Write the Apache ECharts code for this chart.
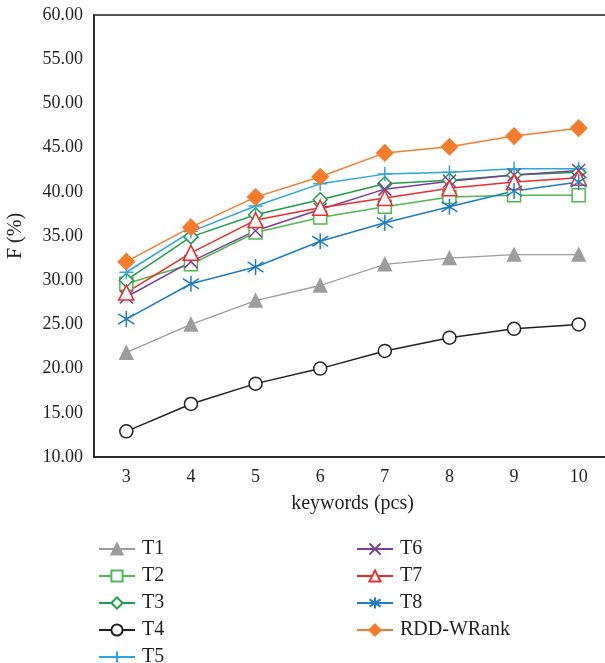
<!DOCTYPE html>
<html>
<head>
<meta charset="utf-8">
<script src="https://cdn.jsdelivr.net/npm/echarts@6/dist/echarts.min.js"></script>
<style>
html,body{margin:0;padding:0;background:#fff;overflow:hidden;}
#chart{width:605px;height:663px;}
</style>
</head>
<body>
<div id="chart"></div>
<script>
var categories = ['3','4','5','6','7','8','9','10'];
var seriesNames = ['T1','T2','T3','T4','T5','T6','T7','T8','RDD-WRank'];
var T1 = [21.8, 25.0, 27.7, 29.4, 31.8, 32.5, 32.9, 32.9];
var T2 = [29.6, 31.8, 35.4, 37.1, 38.3, 39.4, 39.6, 39.6];
var T3 = [30.0, 34.9, 37.4, 39.1, 40.9, 41.3, 41.9, 42.2];
var T4 = [12.9, 16.0, 18.3, 20.0, 22.0, 23.5, 24.5, 25.0];
var T5 = [30.9, 35.5, 38.4, 40.9, 42.0, 42.2, 42.6, 42.6];
var T6 = [28.1, 32.1, 35.6, 38.0, 40.3, 41.2, 41.9, 42.4];
var T7 = [28.6, 33.1, 36.8, 38.2, 39.3, 40.4, 41.1, 41.6];
var T8 = [25.6, 29.6, 31.5, 34.4, 36.5, 38.3, 40.1, 41.1];
var RDD = [32.1, 36.0, 39.4, 41.7, 44.4, 45.1, 46.3, 47.2];
var yTicks = {min: 10, max: 60, interval: 5};

var FONT = 'Liberation Serif';
var TXT = '#231f20';

function mk(name, data, color, symbol, size, filled, lw) {
  return {
    name: name, type: 'line', data: data,
    symbol: symbol, symbolSize: size, showSymbol: true,
    lineStyle: {color: color, width: lw || 1.5},
    itemStyle: {color: filled ? color : '#fff', borderColor: color, borderWidth: 1.5, opacity: 1},
    emphasis: {disabled: true},
    animation: false
  };
}
var PLUS = 'path://M0,5L10,5M5,0L5,10';
var CROSS = 'path://M0,0L10,10M0,10L10,0';
var AST = 'path://M5,0L5,10M0.8,1.8L9.2,8.2M0.8,8.2L9.2,1.8';

var series = [
  mk('T1', T1, '#9d9d9d', 'triangle', 13, true, 1.3),
  mk('T2', T2, '#4fb84f', 'rect', 13, false),
  mk('T3', T3, '#1e9e4a', 'diamond', 14, false),
  mk('T4', T4, '#231f20', 'circle', 13, false),
  mk('T5', T5, '#2aa7e0', PLUS, 14, true),
  mk('T6', T6, '#7a3f98', CROSS, 13, true),
  mk('T7', T7, '#ee2b2b', 'triangle', 15, false),
  mk('T8', T8, '#1c7cc4', AST, 16, true),
  mk('RDD-WRank', RDD, '#f47c2c', 'diamond', 16, true)
];

var legendBase = {
  orient: 'vertical', itemWidth: 36, itemHeight: 14, itemGap: 7, height: 200,
  textStyle: {fontFamily: FONT, fontSize: 20, color: TXT, padding: [0,0,0,2]},
  selectedMode: false
};

var chart = echarts.init(document.getElementById('chart'), null, {renderer: 'canvas'});
chart.setOption({
  backgroundColor: '#fff',
  animation: false,
  grid: {left: 94, top: 15, width: 517, bottom: 206, show: true, borderColor: '#231f20', borderWidth: 1.5,
    containLabel: false, outerBoundsMode: 'none'},
  xAxis: {
    type: 'category', data: categories, boundaryGap: true,
    name: 'keywords (pcs)', nameLocation: 'middle', nameGap: 37,
    nameTextStyle: {fontFamily: FONT, fontSize: 20, color: TXT},
    axisLine: {lineStyle: {color: '#231f20', width: 1.5}},
    axisTick: {show: false},
    axisLabel: {fontFamily: FONT, fontSize: 18, color: TXT, margin: 11},
    splitLine: {show: false}
  },
  yAxis: {
    type: 'value', min: yTicks.min, max: yTicks.max, interval: yTicks.interval,
    name: 'F (%)', nameLocation: 'middle', nameGap: 68,
    nameTextStyle: {fontFamily: FONT, fontSize: 20, color: TXT},
    axisLine: {show: true, lineStyle: {color: '#231f20', width: 1.5}},
    axisTick: {show: false},
    axisLabel: {fontFamily: FONT, fontSize: 18, color: TXT, margin: 11,
      formatter: function (v) { return v.toFixed(2); }},
    splitLine: {show: false}
  },
  legend: [
    Object.assign({}, legendBase, {left: 93, top: 534, data: ['T1','T2','T3','T4','T5']}),
    Object.assign({}, legendBase, {left: 351, top: 534, data: ['T6','T7','T8','RDD-WRank']})
  ],
  series: series
});
</script>
</body>
</html>
